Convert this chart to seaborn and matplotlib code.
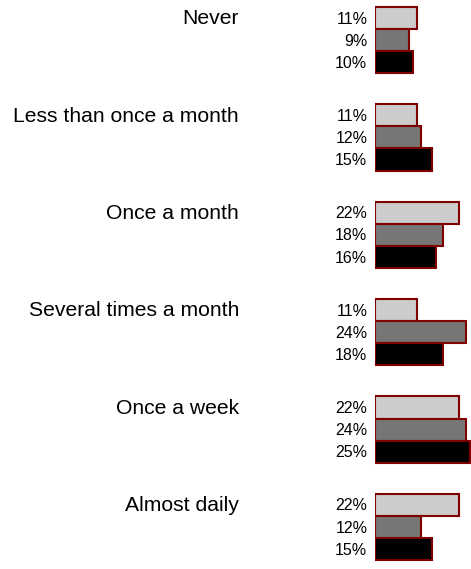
import matplotlib
matplotlib.use("Agg")
import matplotlib.pyplot as plt
import pandas as pd
import seaborn as sns

categories = [
    "Never",
    "Less than once a month",
    "Once a month",
    "Several times a month",
    "Once a week",
    "Almost daily",
]
series_names = ["Series 1", "Series 2", "Series 3"]
series_1 = [11, 11, 22, 11, 22, 22]
series_2 = [9, 12, 18, 24, 24, 12]
series_3 = [10, 15, 16, 18, 25, 15]
colors = ["#cccccc", "#767676", "#000000"]
edge_color = "#7f0000"

all_series = [series_1, series_2, series_3]
rows = []
for name, vals in zip(series_names, all_series):
    for cat, v in zip(categories, vals):
        rows.append({"category": cat, "series": name, "value": v})
df = pd.DataFrame(rows)

sns.set_style("white")
plt.rcParams["font.family"] = ["Liberation Sans", "DejaVu Sans"]

fig = plt.figure(figsize=(4.71, 5.69), dpi=100)
ax = fig.add_axes([375 / 471, 0, 96 / 471, 1])

sns.barplot(
    data=df, y="category", x="value", hue="series", order=categories,
    hue_order=series_names, orient="h", palette=colors, width=0.68,
    saturation=1, edgecolor=edge_color, linewidth=1.5, legend=False, ax=ax,
)

ax.set_xlim(0, 25.25)
ax.set_ylim(5.432, -0.4116)
ax.set_xlabel("")
ax.set_ylabel("")
ax.set_xticks([])
ax.set_yticks([])
sns.despine(ax=ax, left=True, bottom=True)

# percentage labels left of each bar
for container, vals in zip(ax.containers, all_series):
    for bar, v in zip(container, vals):
        yc = bar.get_y() + bar.get_height() / 2
        ax.annotate(f"{v}%", xy=(0, yc), xytext=(-5.5, -0.8), textcoords="offset points",
                    ha="right", va="center", fontsize=11.5, color="#000000",
                    annotation_clip=False)

# category labels aligned with the first bar of each group
for bar, cat in zip(ax.containers[0], categories):
    yc = bar.get_y() + bar.get_height() / 2
    ax.annotate(cat, xy=(0, yc), xytext=(-98, -0.5), textcoords="offset points",
                ha="right", va="center", fontsize=15.2, color="#000000",
                annotation_clip=False)

fig.savefig("out.png", dpi=100)
